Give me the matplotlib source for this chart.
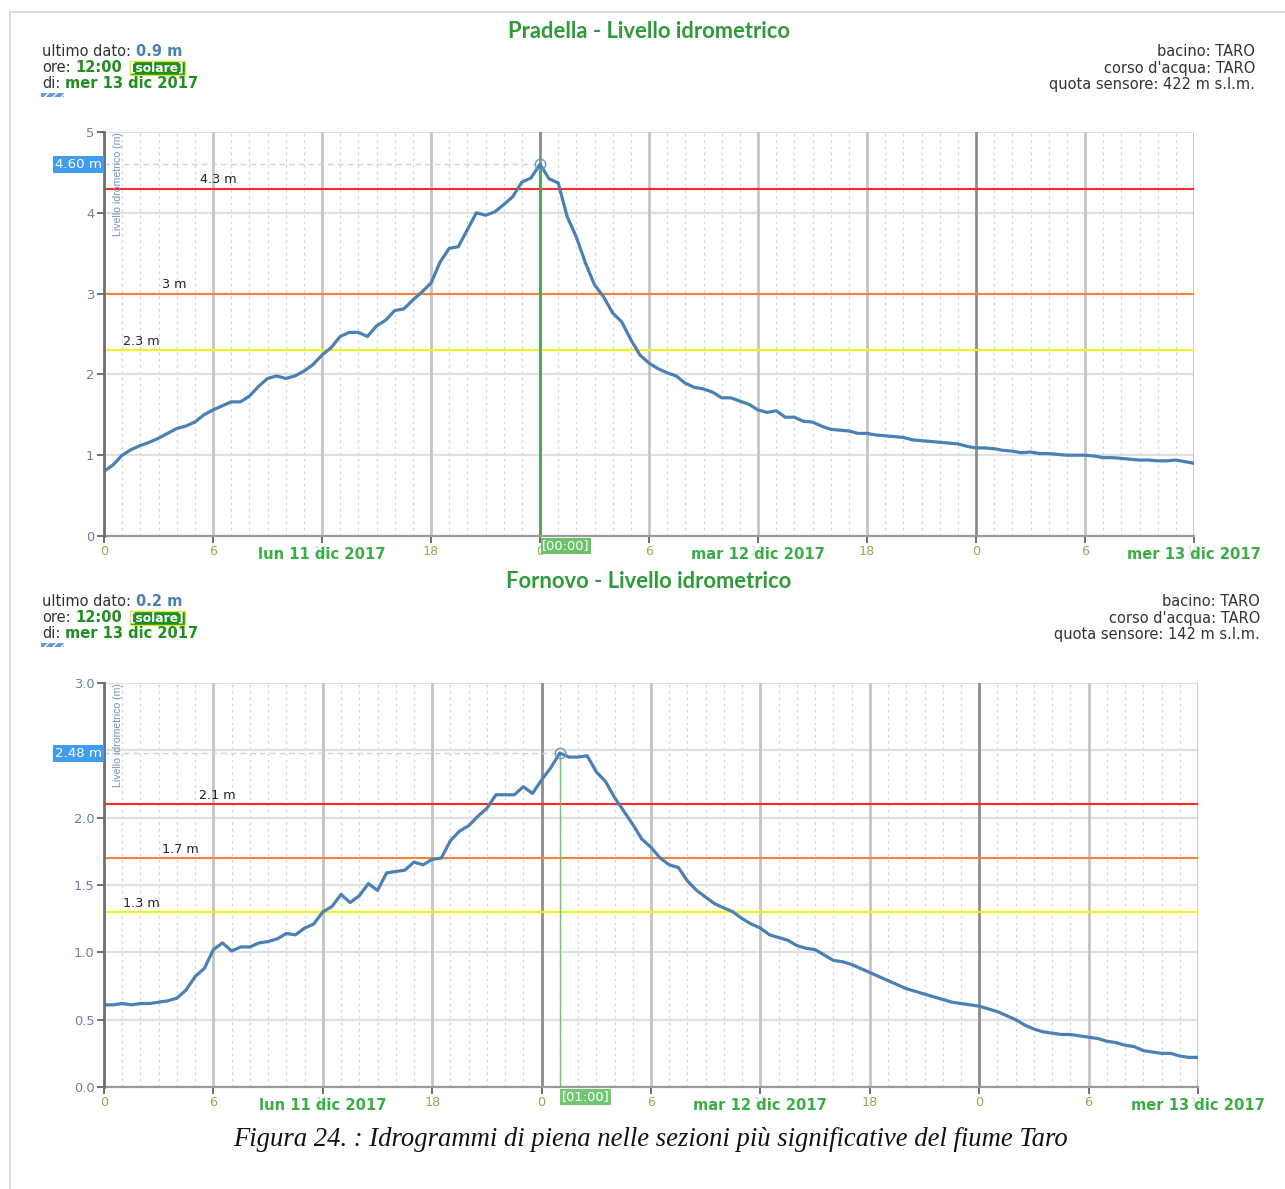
import numpy as np
import matplotlib
matplotlib.use("Agg")
import matplotlib.pyplot as plt
from matplotlib import transforms
from matplotlib.patches import Rectangle
from matplotlib.lines import Line2D

W, H, DPI = 1285, 1189, 100

# Half-hourly water levels (m), from lun 11 dic 2017 00:00 to mer 13 dic 2017 12:00
pradella_level = [
    0.80, 0.88, 1.00, 1.07, 1.12, 1.16, 1.21, 1.27, 1.33, 1.36,
    1.41, 1.50, 1.56, 1.61, 1.66, 1.66, 1.73, 1.85, 1.95, 1.98,
    1.95, 1.98, 2.04, 2.12, 2.24, 2.33, 2.47, 2.52, 2.52, 2.47,
    2.60, 2.67, 2.79, 2.81, 2.92, 3.02, 3.13, 3.39, 3.56, 3.58,
    3.79, 4.00, 3.97, 4.01, 4.10, 4.20, 4.38, 4.43, 4.60, 4.42,
    4.37, 3.95, 3.70, 3.38, 3.11, 2.96, 2.76, 2.65, 2.43, 2.24,
    2.14, 2.07, 2.02, 1.98, 1.89, 1.84, 1.82, 1.78, 1.71, 1.71,
    1.67, 1.63, 1.56, 1.53, 1.55, 1.47, 1.47, 1.42, 1.41, 1.36,
    1.32, 1.31, 1.30, 1.27, 1.27, 1.25, 1.24, 1.23, 1.22, 1.19,
    1.18, 1.17, 1.16, 1.15, 1.14, 1.11, 1.09, 1.09, 1.08, 1.06,
    1.05, 1.03, 1.04, 1.02, 1.02, 1.01, 1.00, 1.00, 1.00, 0.99,
    0.97, 0.97, 0.96, 0.95, 0.94, 0.94, 0.93, 0.93, 0.94, 0.92,
    0.90,
]

fornovo_level = [
    0.61, 0.61, 0.62, 0.61, 0.62, 0.62, 0.63, 0.64, 0.66, 0.72,
    0.82, 0.88, 1.02, 1.07, 1.01, 1.04, 1.04, 1.07, 1.08, 1.10,
    1.14, 1.13, 1.18, 1.21, 1.30, 1.34, 1.43, 1.37, 1.42, 1.51,
    1.46, 1.59, 1.60, 1.61, 1.67, 1.65, 1.69, 1.70, 1.83, 1.90,
    1.94, 2.01, 2.07, 2.17, 2.17, 2.17, 2.23, 2.18, 2.28, 2.37,
    2.48, 2.45, 2.45, 2.46, 2.34, 2.27, 2.15, 2.05, 1.95, 1.84,
    1.78, 1.70, 1.65, 1.63, 1.53, 1.46, 1.41, 1.36, 1.33, 1.30,
    1.25, 1.21, 1.18, 1.13, 1.11, 1.09, 1.05, 1.03, 1.02, 0.98,
    0.94, 0.93, 0.91, 0.88, 0.85, 0.82, 0.79, 0.76, 0.73, 0.71,
    0.69, 0.67, 0.65, 0.63, 0.62, 0.61, 0.60, 0.58, 0.56, 0.53,
    0.50, 0.46, 0.43, 0.41, 0.40, 0.39, 0.39, 0.38, 0.37, 0.36,
    0.34, 0.33, 0.31, 0.30, 0.27, 0.26, 0.25, 0.25, 0.23, 0.22,
    0.22,
]

pradella_thresholds = [4.3, 3.0, 2.3]
pradella_threshold_labels = ["4.3 m", "3 m", "2.3 m"]
fornovo_thresholds = [2.1, 1.7, 1.3]
fornovo_threshold_labels = ["2.1 m", "1.7 m", "1.3 m"]

hour_ticks = [0, 6, 12, 18, 24, 30, 36, 42, 48, 54, 60]
hour_tick_labels = ["0", "6", "12", "18", "0", "6", "12", "18", "0", "6", "12"]
day_labels = ["lun 11 dic 2017", "mar 12 dic 2017", "mer 13 dic 2017"]
day_label_hours = [12, 36, 60]

pradella_yticks = [0, 1, 2, 3, 4, 5]
pradella_yticklabels = ["0", "1", "2", "3", "4", "5"]
fornovo_yticks = [0.0, 0.5, 1.0, 1.5, 2.0, 2.5, 3.0]
fornovo_yticklabels = ["0.0", "0.5", "1.0", "1.5", "2.0", "2.5", "3.0"]

SAMPLE_STEP_H = 0.5

# colours
LINE_BLUE = "#4a80b4"
GREEN = "#2f9a3a"
DATE_GREEN = "#3aae45"
TICK_GREEN = "#8bb04c"
TICK_FADED = "#cfe0cf"
YTICK_COLOR = "#6b80a0"
THRESH_COLORS = ["#ff2828", "#f78434", "#f4f41c"]
TEXT_DARK = "#333333"
SANS = ["DejaVu Sans"]
HDR_SIZE = 10.5

fig = plt.figure(figsize=(W / DPI, H / DPI), dpi=DPI)
fig.patch.set_facecolor("white")
renderer = fig.canvas.get_renderer()


def fx(x):
    return x / W


def fy(y):
    return 1 - y / H


# light frame around the page
fig.add_artist(Line2D([fx(10), fx(1285)], [fy(12), fy(12)], color="#d6d6d6", lw=1.2))
fig.add_artist(Line2D([fx(10), fx(10)], [fy(12), fy(1189)], color="#d6d6d6", lw=1.2))


def draw_runs(x, y, runs):
    """Write consecutive text pieces with their own styles on one line."""
    for s, kw, gap in runs:
        t = fig.text(fx(x), fy(y), s, va="center", ha="left", **kw)
        bb = t.get_window_extent(renderer)
        x += bb.width + gap


def header(top, value_text, station_info, right_x):
    base = dict(fontsize=HDR_SIZE, family=SANS, color=TEXT_DARK)
    bold_blue = dict(fontsize=HDR_SIZE, family=SANS, color=LINE_BLUE, weight="bold")
    bold_green = dict(fontsize=HDR_SIZE, family=SANS, color="#1f8f1f", weight="bold")
    draw_runs(42, top, [("ultimo dato:", base, 5), (value_text, bold_blue, 0)])
    draw_runs(42, top + 16, [("ore:", base, 5), ("12:00", bold_green, 8),
                             ("[solare]", dict(fontsize=8.8, family=SANS, color="white",
                                               weight="bold",
                                               bbox=dict(boxstyle="square,pad=0.06",
                                                         fc="#1f8f1f", ec="#e2e23a", lw=1.0)), 0)])
    draw_runs(42, top + 32, [("di:", base, 5), ("mer 13 dic 2017", bold_green, 0)])
    fig.add_artist(Rectangle((fx(41), fy(top + 45)), 23 / W, 4 / H, transform=fig.transFigure,
                             fc="#6a9ad6", ec="white", lw=0, hatch="////"))
    for k, line in enumerate(station_info):
        fig.text(fx(right_x), fy(top + 16 * k), line, ha="right", va="center",
                 fontsize=HDR_SIZE, family=SANS, color=TEXT_DARK)


def draw_chart(rect_px, levels, ymax, yticks, yticklabels, thresholds, thr_labels,
               thr_label_hours, cursor_style, title, title_y):
    x0, ytop, x1, ybot = rect_px
    ax = fig.add_axes([fx(x0), fy(ybot), (x1 - x0) / W, (ybot - ytop) / H])
    ax.set_xlim(0, 60)
    ax.set_ylim(0, ymax)
    ax.set_facecolor("white")

    # hourly dotted grid
    for h in range(1, 60):
        if h % 6:
            ax.axvline(h, color="#d4d4d4", lw=0.9, ls=(0, (2, 3)), zorder=1)
    # six-hourly and day lines
    for h in hour_ticks[1:]:
        col = "#8c8c8c" if h % 24 == 0 else "#c4c4c4"
        ax.axvline(h, color=col, lw=2.0, zorder=1.2)
    for v in yticks[1:]:
        ax.axhline(v, color="#e0e0e0", lw=1.6, zorder=1.1)

    for v, lab, col, lh in zip(thresholds, thr_labels, THRESH_COLORS, thr_label_hours):
        ax.axhline(v, color=col, lw=1.5, zorder=2)
        ax.text(lh, v + ymax * 0.006, lab, fontsize=9.2, family=SANS, color="#222222",
                va="bottom", ha="left", zorder=3)

    hours = np.arange(len(levels)) * SAMPLE_STEP_H
    i_peak = int(np.argmax(levels))
    t_peak, v_peak = hours[i_peak], levels[i_peak]

    ax.plot([0, t_peak], [v_peak, v_peak], color="#b9d9f6", lw=1.0, ls=(0, (4, 3)), zorder=2)
    ax.plot([t_peak, t_peak], [0, v_peak], color=cursor_style["color"],
            lw=cursor_style["lw"], zorder=2.5)
    ax.plot(hours, levels, color=LINE_BLUE, lw=2.3, zorder=4, solid_joinstyle="round")
    ax.plot(t_peak, v_peak, "o", mfc="none", mec="#6d94c0", mew=1.0, ms=7.5, zorder=5)

    # value flag on the y axis
    ax.text(-0.002, v_peak, f"{v_peak:.2f} m", transform=transforms.blended_transform_factory(
        ax.transAxes, ax.transData), ha="right", va="center", fontsize=9.6, family=SANS,
        color="white", bbox=dict(boxstyle="square,pad=0.15", fc="#3f9cee", ec="none"),
        zorder=6, clip_on=False)
    # time flag under the x axis
    ax.text(t_peak + 0.12, -0.024, f"[{int(t_peak) % 24:02d}:00]",
            transform=transforms.blended_transform_factory(ax.transData, ax.transAxes),
            ha="left", va="center", fontsize=9.4, family=SANS, color="white",
            bbox=dict(boxstyle="square,pad=0.12", fc=cursor_style["flag"], ec="none"),
            zorder=6, clip_on=False)

    # y-axis name
    ax.text(0.013, 1.0, "Livello idrometrico (m)", transform=ax.transAxes, rotation=90,
            ha="center", va="top", fontsize=7.6, family=["Liberation Sans"],
            color="#7392bb", zorder=3)

    for side in ("top", "right"):
        ax.spines[side].set_visible(False)
    ax.spines["left"].set_color("#6e6e6e")
    ax.spines["left"].set_linewidth(2.0)
    ax.spines["bottom"].set_color("#9a9a9a")
    ax.spines["bottom"].set_linewidth(1.6)
    ax.spines["left"].set_zorder(5)

    ax.set_yticks(yticks)
    ax.set_yticklabels(yticklabels)
    ax.tick_params(axis="y", length=5, width=1.2, color="#555555", labelsize=9.4,
                   labelcolor=YTICK_COLOR, pad=2)
    ax.set_xticks(hour_ticks)
    ax.set_xticklabels(hour_tick_labels)
    ax.tick_params(axis="x", length=5, width=1.2, color="#555555", labelsize=9.2, pad=1.5)
    for lbl, txt in zip(ax.get_xticklabels(), hour_tick_labels):
        lbl.set_color(TICK_FADED if txt == "12" else TICK_GREEN)
        lbl.set_family(SANS)
    for lbl in ax.get_yticklabels():
        lbl.set_family(SANS)

    for h, lab in zip(day_label_hours, day_labels):
        ax.text(h, -0.047, lab, transform=transforms.blended_transform_factory(
            ax.transData, ax.transAxes), ha="center", va="center", fontsize=10.6,
            family=SANS, weight="bold", color=DATE_GREEN, clip_on=False)

    fig.text(fx(649), fy(title_y), title, ha="center", va="center", fontsize=15.8,
             family=["Lato", "DejaVu Sans"], weight="bold", color=GREEN)
    return ax


header(52, "0.9 m", ["bacino: TARO", "corso d'acqua: TARO", "quota sensore: 422 m s.l.m."], 1255)
draw_chart((104, 132, 1194, 536), pradella_level, 5, pradella_yticks, pradella_yticklabels,
           pradella_thresholds, pradella_threshold_labels, [5.3, 3.2, 1.05],
           dict(color="#4ea54e", lw=1.8, flag="#6cc26c"),
           "Pradella - Livello idrometrico", 31)

header(602, "0.2 m", ["bacino: TARO", "corso d'acqua: TARO", "quota sensore: 142 m s.l.m."], 1260)
draw_chart((104, 683, 1198, 1087), fornovo_level, 3.0, fornovo_yticks, fornovo_yticklabels,
           fornovo_thresholds, fornovo_threshold_labels, [5.2, 3.2, 1.05],
           dict(color="#66cc66", lw=1.0, flag="#72c872"),
           "Fornovo - Livello idrometrico", 581)

fig.text(fx(651), fy(1140), "Figura 24. : Idrogrammi di piena nelle sezioni più significative del fiume Taro",
         ha="center", va="center", fontsize=19.2, style="italic",
         family=["Liberation Serif", "DejaVu Serif"], color="#111111")

fig.savefig("out.png", dpi=DPI)
